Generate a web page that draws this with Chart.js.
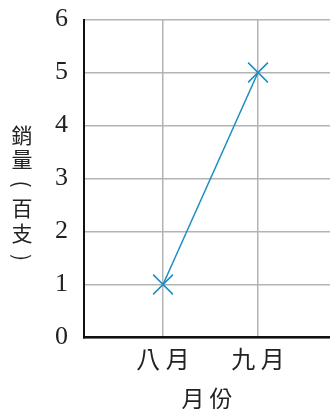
<!DOCTYPE html>
<html>
<head>
<meta charset="utf-8">
<script src="https://cdn.jsdelivr.net/npm/chart.js@4/dist/chart.umd.min.js"></script>
<style>
html,body{margin:0;padding:0;background:#fff;}
#wrap{width:330px;height:409px;position:relative;}
</style>
</head>
<body>
<div id="wrap"><canvas id="c" width="330" height="409"></canvas></div>
<script>
// ---- data ----
const months = ['八 月', '九 月'];
const sales = [1, 5];
const yTicks = [0, 1, 2, 3, 4, 5, 6];
const xTitle = '月 份';
const yTitle = '銷量(百支)';

const points = months.map((m, i) => ({ x: i + 1, y: sales[i] }));
const CJK = '"Noto Sans CJK TC", "Noto Sans CJK SC", sans-serif';

const verticalTitle = {
  id: 'verticalTitle',
  afterDraw(chart) {
    const ctx = chart.ctx;
    ctx.save();
    ctx.font = '21px ' + CJK;
    ctx.fillStyle = '#222';
    ctx.textAlign = 'center';
    ctx.textBaseline = 'middle';
    const cx = 22;
    let cy = 135;
    const pitch = 24.5;
    for (const ch of yTitle) {
      if (ch === '(' || ch === ')') {
        ctx.save();
        ctx.translate(cx, cy);
        ctx.rotate(Math.PI / 2);
        ctx.fillText(ch, 0, 0);
        ctx.restore();
      } else {
        ctx.fillText(ch, cx, cy);
      }
      cy += pitch;
    }
    ctx.restore();
  }
};

new Chart(document.getElementById('c'), {
  type: 'line',
  data: {
    datasets: [{
      data: points,
      borderColor: '#1b8dc3',
      backgroundColor: '#1b8dc3',
      borderWidth: 1.5,
      pointStyle: 'crossRot',
      pointRadius: 14,
      pointBorderWidth: 1.5,
      pointBorderColor: '#1b8dc3',
      fill: false,
      tension: 0
    }]
  },
  options: {
    responsive: false,
    animation: false,
    events: [],
    layout: { autoPadding: false, padding: { top: 19.5, right: 0, left: 0, bottom: 0 } },
    plugins: { legend: { display: false }, tooltip: { enabled: false } },
    scales: {
      x: {
        type: 'linear',
        min: 0.168,
        max: 2.758,
        afterBuildTicks(scale) { scale.ticks = months.map((m, i) => ({ value: i + 1 })); },
        afterFit(scale) { scale.height = 71.5; scale.paddingLeft = 0; scale.paddingRight = 0; },
        ticks: {
          callback: (v) => months[v - 1] || '',
          font: { family: CJK, size: 24 },
          color: '#222',
          padding: 7,
          maxRotation: 0,
          autoSkip: false
        },
        grid: { color: '#b3b3b3', lineWidth: 1.5, drawTicks: false },
        border: { color: '#111', width: 2.5 },
        title: {
          display: true,
          text: xTitle,
          font: { family: CJK, size: 23, lineHeight: 0.9 },
          color: '#222',
          padding: { top: 0, bottom: 0 }
        }
      },
      y: {
        min: 0,
        max: 6,
        afterBuildTicks(scale) { scale.ticks = yTicks.map(v => ({ value: v })); },
        afterFit(scale) { scale.width = 84; scale.paddingTop = 0; scale.paddingBottom = 0; },
        ticks: {
          font: { family: '"Liberation Serif", serif', size: 26 },
          color: '#222',
          padding: 16
        },
        grid: { color: '#b3b3b3', lineWidth: 1.5, drawTicks: false },
        border: { color: '#111', width: 2 }
      }
    }
  },
  plugins: [verticalTitle]
});
</script>
</body>
</html>
